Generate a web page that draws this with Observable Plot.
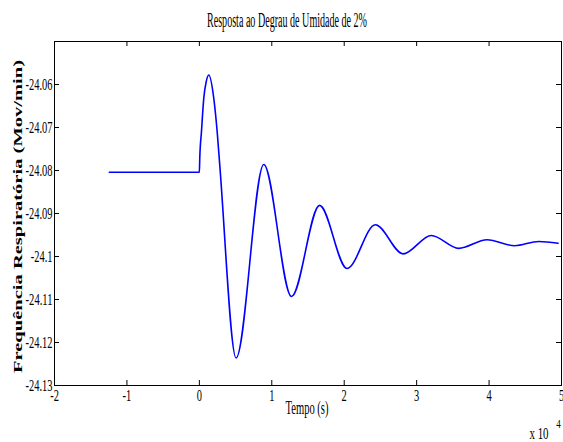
<!DOCTYPE html>
<html><head><meta charset="utf-8">
<script src="https://cdn.jsdelivr.net/npm/d3@7"></script>
<script src="https://cdn.jsdelivr.net/npm/@observablehq/plot@0.6"></script>
<style>body{margin:0;background:#fff} svg{display:block}</style>
</head><body><div id="chart"></div>
<script>
const titleText = "Resposta ao Degrau de Umidade de 2%";
const xLabel = "Tempo (s)";
const yLabel = "Frequência Respiratória (Mov/min)";
const xMultiplier = "x 10";
const xExponent = "4";
const xTicks = [-20000, -10000, 0, 10000, 20000, 30000, 40000, 50000];
const yTicks = [-24.13, -24.12, -24.11, -24.1, -24.09, -24.08, -24.07, -24.06];
const timeS = [-12430, 0, 55, 290, 610, 940, 1300, 1990, 2460, 2820, 5070, 8890, 12720, 16600, 20390, 24300, 28130, 32030, 35800, 39720, 43530, 46850, 49530];
const freq = [-24.0804, -24.0804, -24.0772, -24.0710, -24.0632, -24.0594, -24.0578, -24.0632, -24.0710, -24.0788, -24.1236, -24.0786, -24.1093, -24.0881, -24.1028, -24.0926, -24.0994, -24.0951, -24.0981, -24.0961, -24.0975, -24.0965, -24.0969];
const data = timeS.map((t, i) => ({t, v: freq[i]}));

const W = 563, H = 442, mL = 54, mR = 2, mT = 41, mB = 57;
const frameH = H - mT - mB, frameW = W - mL - mR, tk = 5;
const ff = "Liberation Serif";

const chart = Plot.plot({
  width: W, height: H,
  marginLeft: mL, marginRight: mR, marginTop: mT, marginBottom: mB,
  style: {fontFamily: ff, fontSize: "16px", color: "black", background: "white", overflow: "visible"},
  x: {domain: [-20000, 50000]},
  y: {domain: [-24.13, -24.05]},
  marks: [
    Plot.axisX(xTicks, {anchor: "bottom", tickSize: 0, tickPadding: 4, tickFormat: d => String(d / 1e4), label: null}),
    Plot.axisY(yTicks, {anchor: "left", tickSize: 0, tickPadding: 2, tickFormat: d => String(+d.toFixed(2)), label: null}),
    Plot.tickX(xTicks, {x: d => d, stroke: "black", insetTop: frameH - tk}),
    Plot.tickX(xTicks, {x: d => d, stroke: "black", insetBottom: frameH - tk}),
    Plot.tickY(yTicks, {y: d => d, stroke: "black", insetRight: frameW - tk}),
    Plot.tickY(yTicks, {y: d => d, stroke: "black", insetLeft: frameW - tk}),
    Plot.line(data, {x: "t", y: "v", stroke: "#0000ff", strokeWidth: 1.6, curve: "monotone-x"}),
    Plot.frame({stroke: "black", strokeWidth: 1})
  ]
});
document.getElementById("chart").appendChild(chart);

const svg = d3.select(chart);
// condensed tick labels: width from per-character advance (digits ~5.2px)
const adv = c => c === "-" ? 3.5 : c === "." ? 2.6 : 5.2;
svg.selectAll("g[aria-label$='tick label'] text").each(function() {
  this.style.fontFamily = ff;
  this.style.fontSize = "16px";
  const w = [...this.textContent].reduce((s, c) => s + adv(c), 0);
  this.setAttribute("textLength", w.toFixed(1));
  this.setAttribute("lengthAdjust", "spacingAndGlyphs");
});

svg.append("text").attr("x", 287).attr("y", 27).attr("text-anchor", "middle")
  .style("font-family", ff).style("font-size", "20px").attr("textLength", 160).attr("lengthAdjust", "spacingAndGlyphs")
  .text(titleText);
svg.append("text").attr("x", 307).attr("y", 414).attr("text-anchor", "middle")
  .style("font-family", ff).style("font-size", "18px").attr("textLength", 43).attr("lengthAdjust", "spacingAndGlyphs")
  .text(xLabel);
svg.append("text").attr("transform", "translate(22,216.5) rotate(-90)").attr("text-anchor", "middle")
  .style("font-family", ff).style("font-size", "13px").style("font-weight", "bold").attr("textLength", 313).attr("lengthAdjust", "spacingAndGlyphs")
  .text(yLabel);
svg.append("text").attr("x", 539).attr("y", 439)
  .style("font-family", ff).style("font-size", "17px").attr("textLength", 19).attr("lengthAdjust", "spacingAndGlyphs")
  .text(xMultiplier);
svg.append("text").attr("x", 558.5).attr("y", 428)
  .style("font-family", ff).style("font-size", "12px").attr("textLength", 4.5).attr("lengthAdjust", "spacingAndGlyphs")
  .text(xExponent);
</script></body></html>
